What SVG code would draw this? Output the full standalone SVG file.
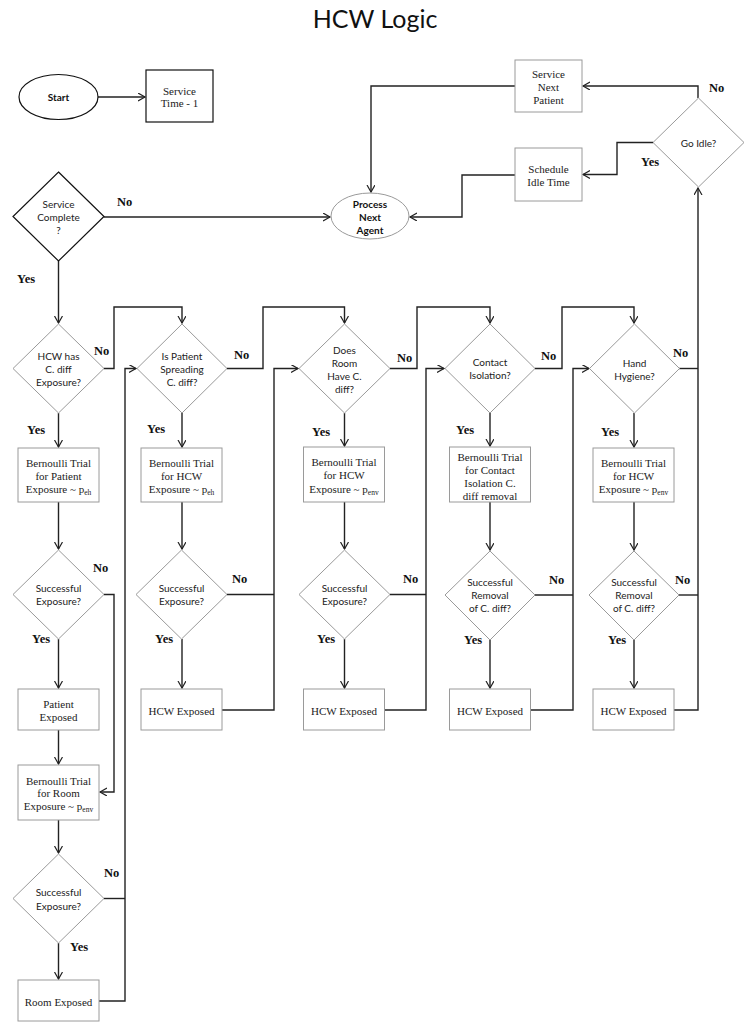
<svg xmlns="http://www.w3.org/2000/svg" width="750" height="1027" viewBox="0 0 750 1027">
<style>
.bg{fill:#fff}
.shp{fill:#fff;stroke:#9a9a9a;stroke-width:1}
.dk{fill:#fff;stroke:#111;stroke-width:1.2}
.con{fill:none;stroke:#222;stroke-width:1.4}
.st{font-family:Lato,"Open Sans",sans-serif;font-size:10px;fill:#222;text-anchor:middle}
.sb{font-family:Lato,"Open Sans",sans-serif;font-size:10px;font-weight:bold;fill:#111;text-anchor:middle}
.tt{font-family:"Liberation Serif","Times New Roman",serif;font-size:11px;fill:#222;text-anchor:middle}
.lb{font-family:"Liberation Serif","Times New Roman",serif;font-size:12.5px;font-weight:bold;fill:#111}
.sub{font-size:7.5px}
.title{font-family:Lato,"Open Sans",sans-serif;font-size:25px;fill:#111;text-anchor:middle}
</style>
<defs>
<marker id="ah" markerWidth="10" markerHeight="10" refX="7" refY="4" orient="auto" markerUnits="userSpaceOnUse">
<path d="M0,0 L7,4 L0,8" fill="none" stroke="#222" stroke-width="1.2"/>
</marker>
</defs>
<rect class="bg" x="0" y="0" width="750" height="1027"/>
<text class="title" x="375" y="28">HCW Logic</text>

<g id="connectors">
<path class="con" d="M98,97 H145" marker-end="url(#ah)"/>
<path class="con" d="M104,217 H330" marker-end="url(#ah)"/>
<path class="con" d="M58.5,261 V323" marker-end="url(#ah)"/>
<path class="con" d="M515,86 H371 V192" marker-end="url(#ah)"/>
<path class="con" d="M698,98 V86 H583" marker-end="url(#ah)"/>
<path class="con" d="M653,142.5 H617 V174.5 H583" marker-end="url(#ah)"/>
<path class="con" d="M515,175 H462 V217 H410" marker-end="url(#ah)"/>
<path class="con" d="M104,368.5 H114 V307 H182 V323" marker-end="url(#ah)"/>
<path class="con" d="M227,368.5 H263 V307 H344.5 V323" marker-end="url(#ah)"/>
<path class="con" d="M390,368.5 H417 V307 H490 V323" marker-end="url(#ah)"/>
<path class="con" d="M535,368.5 H562 V307 H634 V323" marker-end="url(#ah)"/>
<path class="con" d="M679,368.5 H698"/>
<path class="con" d="M674,710 H698 V188" marker-end="url(#ah)"/>
<path class="con" d="M58.5,413 V447" marker-end="url(#ah)"/>
<path class="con" d="M182,413 V447" marker-end="url(#ah)"/>
<path class="con" d="M344.5,413 V446" marker-end="url(#ah)"/>
<path class="con" d="M490,413 V446" marker-end="url(#ah)"/>
<path class="con" d="M634,413 V447" marker-end="url(#ah)"/>
<path class="con" d="M58.5,502 V549" marker-end="url(#ah)"/>
<path class="con" d="M182,502 V549" marker-end="url(#ah)"/>
<path class="con" d="M344.5,502 V549" marker-end="url(#ah)"/>
<path class="con" d="M490,502 V550" marker-end="url(#ah)"/>
<path class="con" d="M634,502 V550" marker-end="url(#ah)"/>
<path class="con" d="M58.5,639 V688" marker-end="url(#ah)"/>
<path class="con" d="M182,639 V688" marker-end="url(#ah)"/>
<path class="con" d="M344.5,639 V688" marker-end="url(#ah)"/>
<path class="con" d="M490,640 V688" marker-end="url(#ah)"/>
<path class="con" d="M634,640 V688" marker-end="url(#ah)"/>
<path class="con" d="M104,594.5 H114 V792 H100" marker-end="url(#ah)"/>
<path class="con" d="M58.5,730 V764" marker-end="url(#ah)"/>
<path class="con" d="M58.5,820 V853" marker-end="url(#ah)"/>
<path class="con" d="M58.5,943 V979" marker-end="url(#ah)"/>
<path class="con" d="M104,898.5 H125"/>
<path class="con" d="M99,1001 H125 V368.5 H136" marker-end="url(#ah)"/>
<path class="con" d="M227,594.5 H274"/>
<path class="con" d="M222,710 H274 V368.5 H298" marker-end="url(#ah)"/>
<path class="con" d="M390,594.5 H426"/>
<path class="con" d="M384,710 H426 V368.5 H444" marker-end="url(#ah)"/>
<path class="con" d="M535,595 H573"/>
<path class="con" d="M531,710 H573 V368.5 H589" marker-end="url(#ah)"/>
<path class="con" d="M679,595 H698"/>
</g>

<g id="start">
<ellipse class="dk" cx="58.5" cy="97" rx="39.5" ry="22.5"/>
<text class="sb" x="58.5" y="100.5">Start</text>
</g>
<g id="service-time">
<rect class="dk" x="146" y="70" width="67" height="52"/>
<text class="tt" x="179.5" y="95">Service</text>
<text class="tt" x="179.5" y="107">Time - 1</text>
</g>
<g id="service-complete">
<polygon class="dk" points="58.5,172 104,216.5 58.5,261 13,216.5"/>
<text class="st" x="58.5" y="207.5">Service</text>
<text class="st" x="58.5" y="220.5">Complete</text>
<text class="st" x="58.5" y="233.5">?</text>
</g>
<g id="process-next-agent">
<ellipse class="shp" cx="370" cy="216" rx="39" ry="23"/>
<text class="sb" x="370" y="207.5">Process</text>
<text class="sb" x="370" y="220.5">Next</text>
<text class="sb" x="370" y="233.5">Agent</text>
</g>
<g id="service-next-patient">
<rect class="shp" x="515" y="60" width="67" height="52"/>
<text class="tt" x="548.5" y="78">Service</text>
<text class="tt" x="548.5" y="91">Next</text>
<text class="tt" x="548.5" y="104">Patient</text>
</g>
<g id="schedule-idle">
<rect class="shp" x="515" y="148" width="67" height="53"/>
<text class="tt" x="548.5" y="173">Schedule</text>
<text class="tt" x="548.5" y="186">Idle Time</text>
</g>
<g id="go-idle">
<polygon class="shp" points="698.5,98 744,142.5 698.5,187 653,142.5"/>
<text class="st" x="698.5" y="146.5">Go Idle?</text>
</g>

<g id="hcw-has-cdiff">
<polygon class="shp" points="58.5,324 104,368.5 58.5,413 13,368.5"/>
<text class="st" x="58.5" y="359.5">HCW has</text>
<text class="st" x="58.5" y="372.5">C. diff</text>
<text class="st" x="58.5" y="385.5">Exposure?</text>
</g>
<g id="patient-spreading">
<polygon class="shp" points="182,324 227,368.5 182,413 137,368.5"/>
<text class="st" x="182" y="359.5">Is Patient</text>
<text class="st" x="182" y="372.5">Spreading</text>
<text class="st" x="182" y="385.5">C. diff?</text>
</g>
<g id="room-cdiff">
<polygon class="shp" points="344.5,324 390,368.5 344.5,413 299,368.5"/>
<text class="st" x="344.5" y="353.5">Does</text>
<text class="st" x="344.5" y="366.5">Room</text>
<text class="st" x="344.5" y="379.5">Have C.</text>
<text class="st" x="344.5" y="392.5">diff?</text>
</g>
<g id="contact-isolation">
<polygon class="shp" points="490,324 535,368.5 490,413 445,368.5"/>
<text class="st" x="490" y="365.5">Contact</text>
<text class="st" x="490" y="378.5">Isolation?</text>
</g>
<g id="hand-hygiene">
<polygon class="shp" points="634.5,324 679.5,368.5 634.5,413 589.5,368.5"/>
<text class="st" x="634.5" y="366.5">Hand</text>
<text class="st" x="634.5" y="379.5">Hygiene?</text>
</g>

<g id="bern-patient">
<rect class="shp" x="18" y="448" width="81" height="54"/>
<text class="tt" x="58.5" y="467">Bernoulli Trial</text>
<text class="tt" x="58.5" y="480">for Patient</text>
<text class="tt" x="58.5" y="493">Exposure ~ p<tspan class="sub" dy="2">eh</tspan></text>
</g>
<g id="bern-hcw-1">
<rect class="shp" x="141" y="448" width="81" height="54"/>
<text class="tt" x="181.5" y="467">Bernoulli Trial</text>
<text class="tt" x="181.5" y="480">for HCW</text>
<text class="tt" x="181.5" y="493">Exposure ~ p<tspan class="sub" dy="2">eh</tspan></text>
</g>
<g id="bern-hcw-2">
<rect class="shp" x="303.5" y="447" width="81" height="55"/>
<text class="tt" x="344" y="466">Bernoulli Trial</text>
<text class="tt" x="344" y="479">for HCW</text>
<text class="tt" x="344" y="493">Exposure ~ p<tspan class="sub" dy="2">env</tspan></text>
</g>
<g id="bern-contact">
<rect class="shp" x="449.5" y="447" width="81" height="55"/>
<text class="tt" x="490" y="461">Bernoulli Trial</text>
<text class="tt" x="490" y="474">for Contact</text>
<text class="tt" x="490" y="487">Isolation C.</text>
<text class="tt" x="490" y="500">diff removal</text>
</g>
<g id="bern-hcw-3">
<rect class="shp" x="593" y="448" width="81" height="54"/>
<text class="tt" x="633.5" y="467">Bernoulli Trial</text>
<text class="tt" x="633.5" y="480">for HCW</text>
<text class="tt" x="633.5" y="493">Exposure ~ p<tspan class="sub" dy="2">env</tspan></text>
</g>

<g id="success-1">
<polygon class="shp" points="58.5,550 104,594.5 58.5,639 13,594.5"/>
<text class="st" x="58.5" y="591.5">Successful</text>
<text class="st" x="58.5" y="604.5">Exposure?</text>
</g>
<g id="success-2">
<polygon class="shp" points="181.5,550 227,594.5 181.5,639 136,594.5"/>
<text class="st" x="181.5" y="591.5">Successful</text>
<text class="st" x="181.5" y="604.5">Exposure?</text>
</g>
<g id="success-3">
<polygon class="shp" points="344.5,550 390,594.5 344.5,639 299,594.5"/>
<text class="st" x="344.5" y="591.5">Successful</text>
<text class="st" x="344.5" y="604.5">Exposure?</text>
</g>
<g id="removal-1">
<polygon class="shp" points="490,551 535,595 490,640 445,595"/>
<text class="st" x="490" y="585.5">Successful</text>
<text class="st" x="490" y="598.5">Removal</text>
<text class="st" x="490" y="611.5">of C. diff?</text>
</g>
<g id="removal-2">
<polygon class="shp" points="634,551 679,595 634,640 589,595"/>
<text class="st" x="634" y="585.5">Successful</text>
<text class="st" x="634" y="598.5">Removal</text>
<text class="st" x="634" y="611.5">of C. diff?</text>
</g>

<g id="patient-exposed">
<rect class="shp" x="18" y="689" width="81" height="41"/>
<text class="tt" x="58.5" y="708">Patient</text>
<text class="tt" x="58.5" y="721">Exposed</text>
</g>
<g id="hcw-exposed-1">
<rect class="shp" x="141" y="689" width="81" height="41"/>
<text class="tt" x="181.5" y="714.5">HCW Exposed</text>
</g>
<g id="hcw-exposed-2">
<rect class="shp" x="303.5" y="689" width="81" height="41"/>
<text class="tt" x="344" y="714.5">HCW Exposed</text>
</g>
<g id="hcw-exposed-3">
<rect class="shp" x="449.5" y="689" width="81" height="41"/>
<text class="tt" x="490" y="714.5">HCW Exposed</text>
</g>
<g id="hcw-exposed-4">
<rect class="shp" x="593" y="689" width="81" height="41"/>
<text class="tt" x="633.5" y="714.5">HCW Exposed</text>
</g>

<g id="bern-room">
<rect class="shp" x="18" y="765" width="81" height="55"/>
<text class="tt" x="58.5" y="784.5">Bernoulli Trial</text>
<text class="tt" x="58.5" y="797">for Room</text>
<text class="tt" x="58.5" y="810">Exposure ~ p<tspan class="sub" dy="2">env</tspan></text>
</g>
<g id="success-room">
<polygon class="shp" points="58.5,854 104,898.5 58.5,943 13,898.5"/>
<text class="st" x="58.5" y="895.5">Successful</text>
<text class="st" x="58.5" y="909.5">Exposure?</text>
</g>
<g id="room-exposed">
<rect class="shp" x="18" y="980" width="81" height="41"/>
<text class="tt" x="58.5" y="1005.5">Room Exposed</text>
</g>

<g id="labels">
<text class="lb" x="117" y="206">No</text>
<text class="lb" x="17" y="283">Yes</text>
<text class="lb" x="709" y="92">No</text>
<text class="lb" x="641" y="166">Yes</text>
<text class="lb" x="94" y="355">No</text>
<text class="lb" x="27" y="434">Yes</text>
<text class="lb" x="234" y="359">No</text>
<text class="lb" x="147" y="433">Yes</text>
<text class="lb" x="397" y="362">No</text>
<text class="lb" x="312" y="436">Yes</text>
<text class="lb" x="541" y="360">No</text>
<text class="lb" x="456" y="434">Yes</text>
<text class="lb" x="673" y="357">No</text>
<text class="lb" x="601" y="436">Yes</text>
<text class="lb" x="93" y="572">No</text>
<text class="lb" x="32" y="643">Yes</text>
<text class="lb" x="232" y="583">No</text>
<text class="lb" x="155" y="643">Yes</text>
<text class="lb" x="403" y="583">No</text>
<text class="lb" x="317" y="643">Yes</text>
<text class="lb" x="549" y="584">No</text>
<text class="lb" x="464" y="644">Yes</text>
<text class="lb" x="675" y="584">No</text>
<text class="lb" x="608" y="644">Yes</text>
<text class="lb" x="104" y="877">No</text>
<text class="lb" x="70" y="951">Yes</text>
</g>
</svg>
